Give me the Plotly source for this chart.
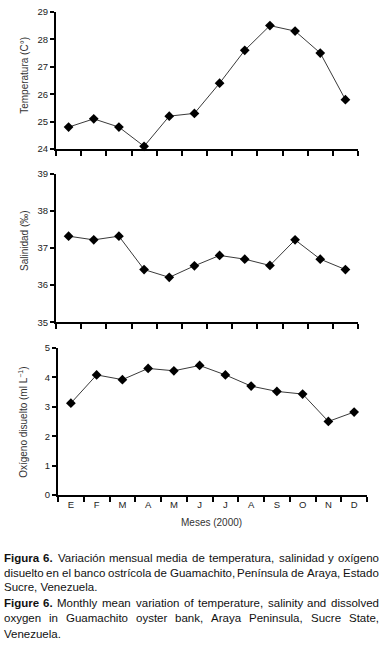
import plotly.graph_objects as go

months = ["E", "F", "M", "A", "M", "J", "J", "A", "S", "O", "N", "D"]
temperatura = [24.8, 25.1, 24.8, 24.1, 25.2, 25.3, 26.4, 27.6, 28.5, 28.3, 27.5, 25.8]
salinidad = [37.32, 37.22, 37.32, 36.42, 36.21, 36.52, 36.80, 36.70, 36.53, 37.22, 36.70, 36.42]
oxigeno = [3.12, 4.08, 3.92, 4.30, 4.22, 4.40, 4.08, 3.70, 3.52, 3.43, 2.50, 2.82]

temp_ticks = [24, 25, 26, 27, 28, 29]
sal_ticks = [35, 36, 37, 38, 39]
oxy_ticks = [0, 1, 2, 3, 4, 5]

caption_lines = [
    ("Figura 6. Variación mensual media de temperatura, salinidad y oxígeno", True),
    ("disuelto en el banco ostrícola de Guamachito, Península de Araya, Estado", True),
    ("Sucre, Venezuela.", False),
    ("Figure 6. Monthly mean variation of temperature, salinity and dissolved", True),
    ("oxygen in Guamachito oyster bank, Araya Peninsula, Sucre State,", True),
    ("Venezuela.", False),
]
bold_words = {"Figura", "Figure", "6."}

W, H = 386, 650
SANS = "Liberation Sans, Arial, sans-serif"


def py(px):
    return 1 - px / H


def px_x(px):
    return px / W


# Arial / Liberation Sans advance widths (units per 1000 em)
REG = {
    " ": 278, ",": 278, ".": 278, "(": 333, ")": 333,
    "a": 556, "b": 556, "c": 500, "d": 556, "e": 556, "f": 278, "g": 556, "h": 556,
    "i": 222, "j": 222, "k": 500, "l": 222, "m": 833, "n": 556, "o": 556, "p": 556,
    "q": 556, "r": 333, "s": 500, "t": 278, "u": 556, "v": 500, "w": 722, "x": 500,
    "y": 500, "z": 500, "á": 556, "í": 278, "ó": 556, "é": 556,
    "A": 667, "E": 667, "F": 611, "G": 778, "M": 833, "P": 667, "S": 667, "V": 667,
    "T": 611,
}
BOLD = {"F": 611, "i": 278, "g": 611, "u": 611, "r": 389, "a": 556, "e": 556, "6": 556, ".": 278}


def text_width(word, bold, size):
    table = BOLD if bold else REG
    return sum(table.get(c, 556) for c in word) * size / 1000.0


fig = go.Figure()

xpos = list(range(1, len(months) + 1))
bounds = [i + 0.5 for i in range(0, len(months) + 1)]

panels = [
    (temperatura, temp_ticks, "Temperatura (C°)", (56, 358), (6, 145.5), (25, 70)),
    (salinidad, sal_ticks, "Salinidad (‰)", (56, 358), (170.7, 321.7), (25, 238)),
    (oxigeno, oxy_ticks, "Oxígeno disuelto (ml L<sup>−1</sup>)", (58, 367), (347.7, 497.5), (23, 424)),
]

for i, (vals, ticks, title, (x0, x1), (y0, y1), (tx, ty)) in enumerate(panels, start=1):
    xa = "x" if i == 1 else f"x{i}"
    ya = "y" if i == 1 else f"y{i}"
    fig.add_trace(go.Scatter(
        x=xpos, y=vals, xaxis=xa, yaxis=ya, mode="lines+markers",
        line=dict(color="#3a3a3a", width=1),
        marker=dict(symbol="diamond", size=7.5, color="black", line=dict(width=0)),
        cliponaxis=False, showlegend=False, hoverinfo="skip",
    ))
    last = i == 3
    fig.update_layout(**{
        ("xaxis" if i == 1 else f"xaxis{i}"): dict(
            domain=[px_x(x0), px_x(x1)], anchor=ya, range=[0.5, 12.5],
            showgrid=False, zeroline=False, showline=True, linecolor="black", linewidth=2,
            tickvals=xpos, ticktext=months, showticklabels=last,
            ticks="", tickfont=dict(family=SANS, size=9.5, color="#222222"),
            minor=dict(tickvals=bounds, ticks="outside", ticklen=4.5, tickwidth=2,
                       tickcolor="black", showgrid=False),
            fixedrange=True,
        ),
        ("yaxis" if i == 1 else f"yaxis{i}"): dict(
            domain=[py(y1), py(y0)], anchor=xa, range=[ticks[0], ticks[-1]],
            showgrid=False, zeroline=False, showline=True, linecolor="black", linewidth=2,
            tickvals=ticks, ticks="outside", ticklen=4, tickwidth=1.5, tickcolor="black",
            tickfont=dict(family=SANS, size=9.5, color="#222222"),
            fixedrange=True,
        ),
    })
    fig.add_annotation(
        x=px_x(tx), y=py(ty), xref="paper", yref="paper",
        text=title, textangle=-90, showarrow=False,
        font=dict(family=SANS, size=10, color="#333333"),
        xanchor="center", yanchor="middle",
    )

fig.add_annotation(
    x=px_x(212), y=py(525), xref="paper", yref="paper", text="Meses (2000)",
    showarrow=False, font=dict(family=SANS, size=10, color="#333333"),
    xanchor="center", yanchor="middle",
)

# Caption: justified lines placed word by word (first word left-anchored,
# last word right-anchored, middle words centred on their computed slots)
CAP_SIZE = 11.5
LEFT, RIGHT = 4, 379
line_y = [561.5, 576.5, 591.5, 607.5, 623, 638.5]
for (line, justify), yc in zip(caption_lines, line_y):
    common = dict(xref="paper", yref="paper", y=py(yc), showarrow=False,
                  font=dict(family=SANS, size=CAP_SIZE, color="#111111"),
                  yanchor="middle", align="left", borderpad=0, borderwidth=0)
    words = line.split(" ")
    if not justify:
        fig.add_annotation(x=px_x(LEFT), text=line, xanchor="left", **common)
        continue
    isb = [w in bold_words and j < 2 for j, w in enumerate(words)]
    widths = [text_width(w, b, CAP_SIZE) for w, b in zip(words, isb)]
    gap = (RIGHT - LEFT - sum(widths)) / (len(words) - 1)
    x = LEFT
    n = len(words)
    for j, (w, wd, b) in enumerate(zip(words, widths, isb)):
        txt = f"<b>{w}</b>" if b else w
        if j == 0:
            fig.add_annotation(x=px_x(LEFT), text=txt, xanchor="left", **common)
        elif j == n - 1:
            fig.add_annotation(x=px_x(RIGHT), text=txt, xanchor="right", **common)
        else:
            fig.add_annotation(x=px_x(x + wd / 2), text=txt, xanchor="center", **common)
        x += wd + gap

fig.update_layout(
    width=W, height=H, margin=dict(l=0, r=0, t=0, b=0),
    paper_bgcolor="white", plot_bgcolor="white",
)

fig.write_html(
    "out.html",
    config={"displayModeBar": False},
    post_script="document.body.style.margin='0';document.body.style.overflow='hidden';",
)
